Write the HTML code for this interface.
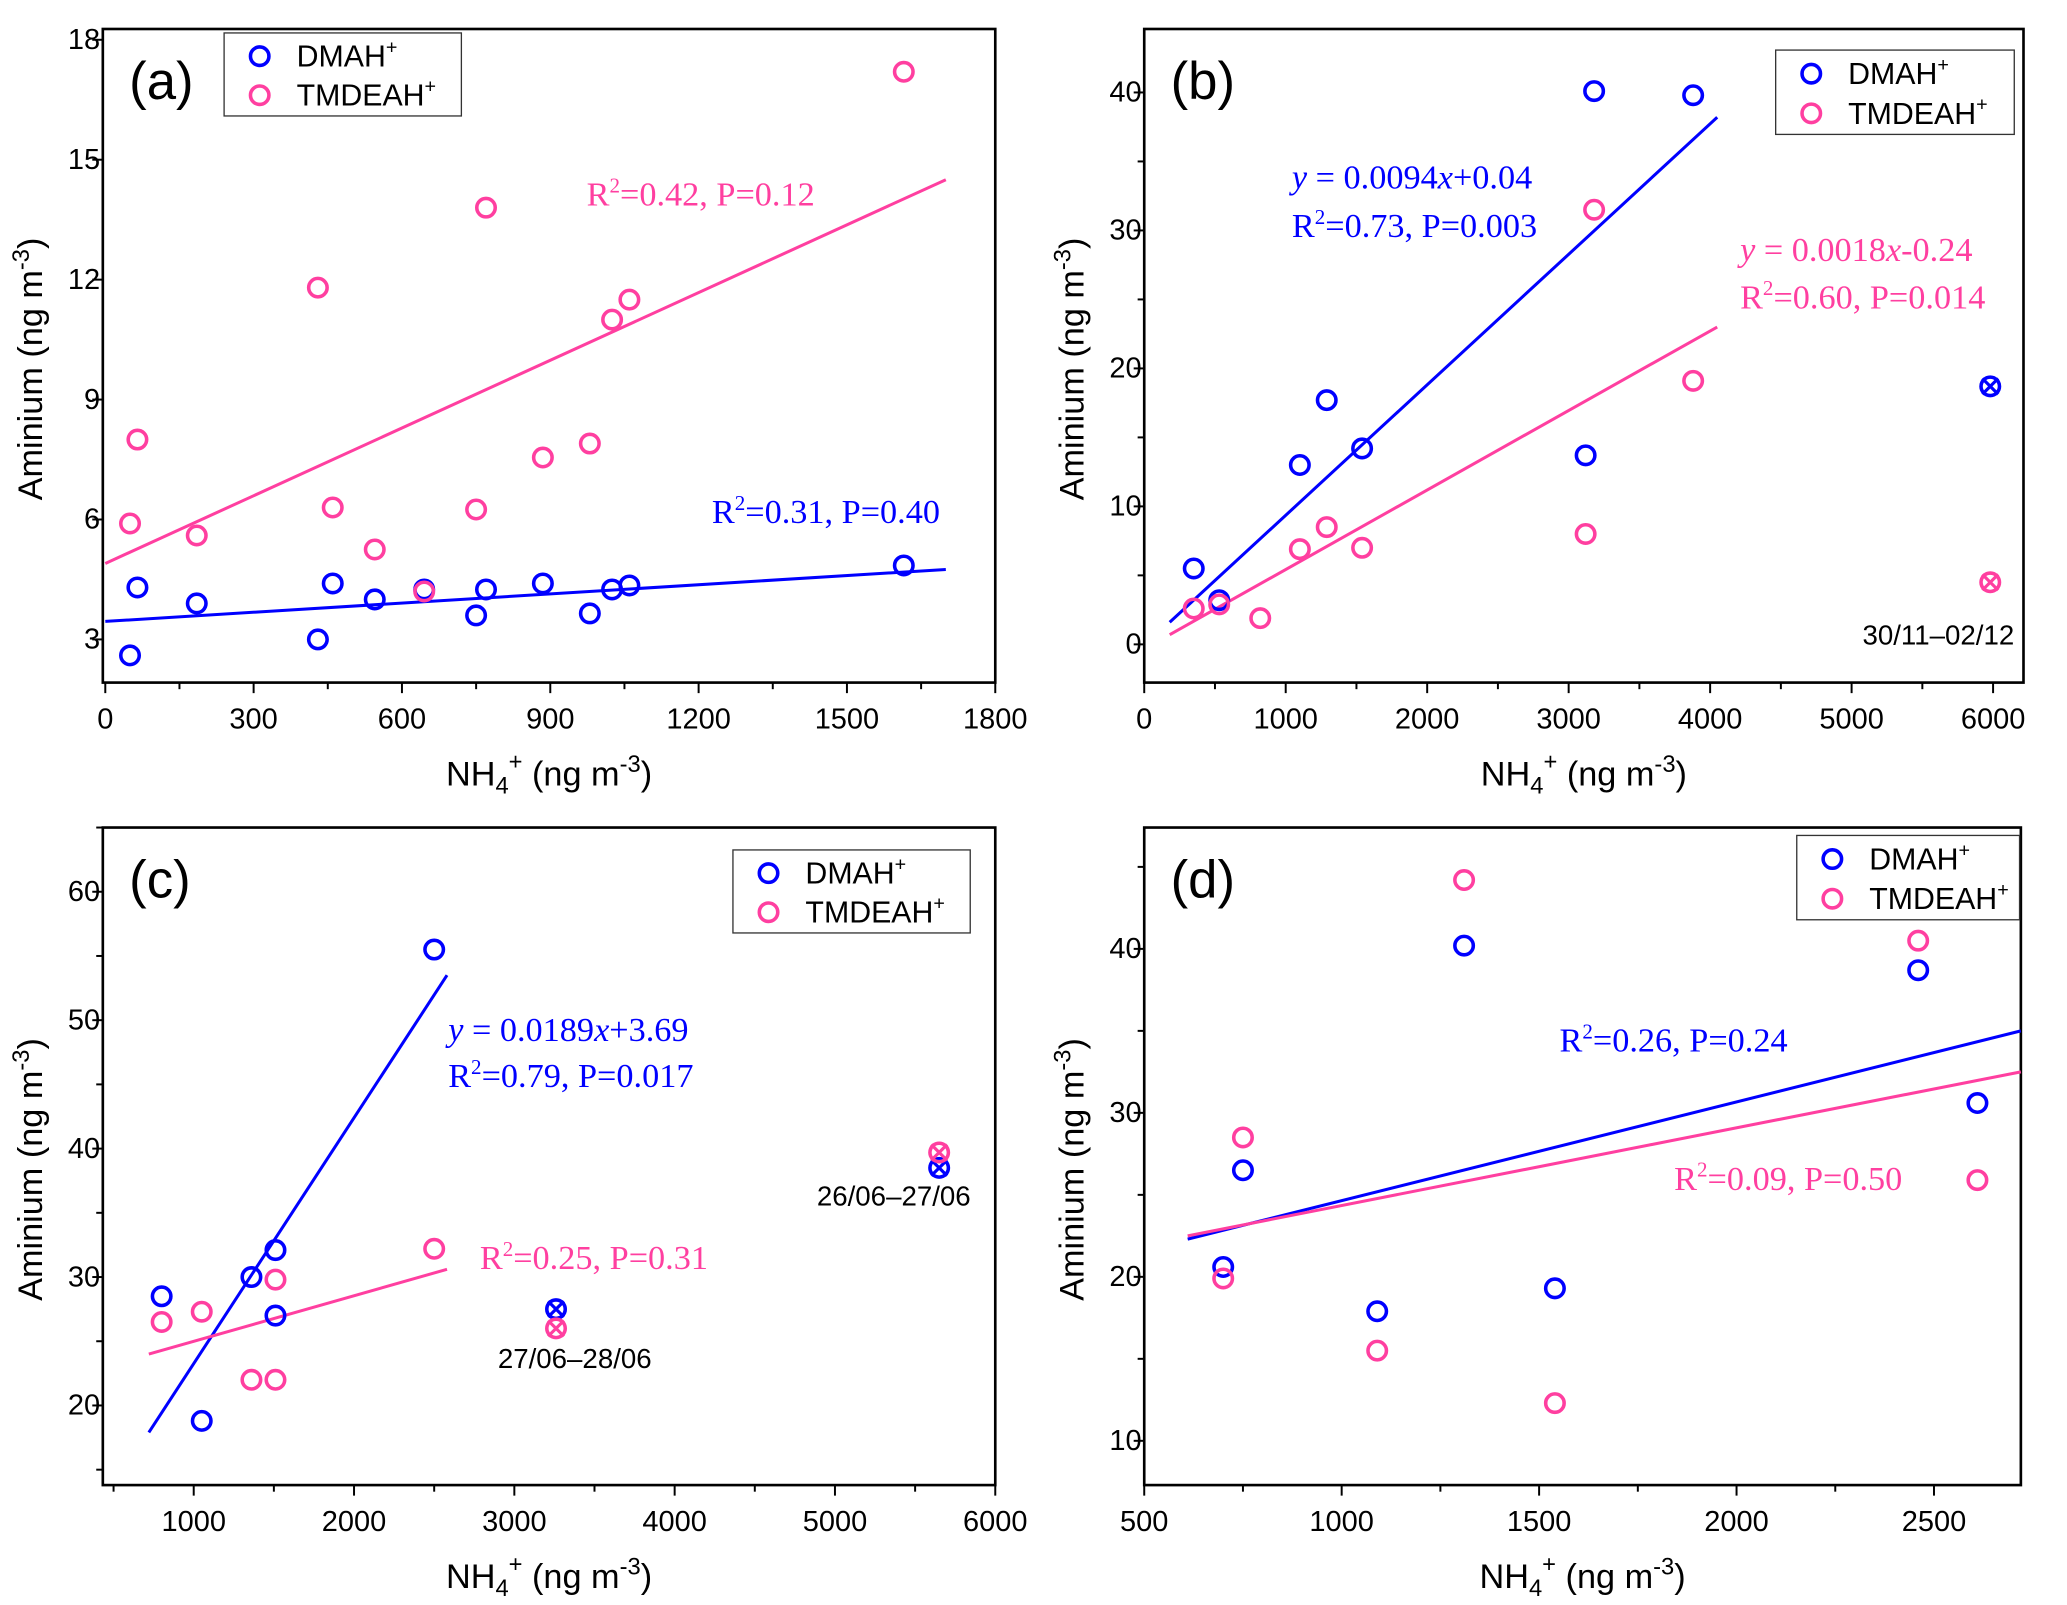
<!DOCTYPE html>
<html><head><meta charset="utf-8"><style>
html,body{margin:0;padding:0;background:#fff;}
svg{display:block;}
text{font-family:"Liberation Sans",Arial,sans-serif;}
.tm{font-family:"Liberation Serif","Times New Roman",serif;}
</style></head><body>
<svg id="fig" width="2067" height="1605" viewBox="0 0 1568 1218" preserveAspectRatio="none" xmlns="http://www.w3.org/2000/svg"></svg>
<script>
// ---- Panel (a) data ----
const aX = [50,65,185,430,460,545,645,750,770,885,980,1025,1060,1615];
const aDmah = [2.6,4.3,3.9,3.0,4.4,4.0,4.25,3.6,4.25,4.4,3.65,4.25,4.35,4.85];
const aTmdeah = [5.9,8.0,5.6,11.8,6.3,5.25,4.2,6.25,13.8,7.55,7.9,11.0,11.5,17.2];
const aXTicks = [0,300,600,900,1200,1500,1800];
const aYTicks = [3,6,9,12,15,18];
const aFitDmah = [[0,3.45],[1700,4.75]];
const aFitTmdeah = [[0,4.9],[1700,14.5]];
// ---- Panel (b) data ----
const bX = [350,530,1100,1290,1540,3120,3180,3880];
const bDmah = [5.5,3.2,13,17.7,14.2,13.7,40.1,39.8];
const bTX = [350,530,820,1100,1290,1540,3120,3180,3880];
const bTmdeah = [2.6,2.9,1.9,6.9,8.5,7.0,8.0,31.5,19.1];
const bOutX = [5980];
const bOutDmah = [18.7];
const bOutTmdeah = [4.5];
const bXTicks = [0,1000,2000,3000,4000,5000,6000];
const bYTicks = [0,10,20,30,40];
const bFitDmah = [[180,1.6],[4050,38.2]];
const bFitTmdeah = [[180,0.7],[4050,23]];
// ---- Panel (c) data ----
const cX = [800,1050,1360,1510,1510,2500];
const cDmah = [28.5,18.8,30,32.1,27,55.5];
const cTmdeah = [26.5,27.3,22,29.8,22,32.2];
const cOutX = [3260,5650];
const cOutDmah = [27.5,38.5];
const cOutTmdeah = [26,39.7];
const cXTicks = [1000,2000,3000,4000,5000,6000];
const cYTicks = [20,30,40,50,60];
const cFitDmah = [[720,17.9],[2580,53.5]];
const cFitTmdeah = [[720,24],[2580,30.6]];
// ---- Panel (d) data ----
const dX = [700,750,1090,1310,1540,2460,2610];
const dDmah = [20.6,26.5,17.9,40.2,19.3,38.7,30.6];
const dTmdeah = [19.9,28.5,15.5,44.2,12.3,40.5,25.9];
const dXTicks = [500,1000,1500,2000,2500];
const dYTicks = [10,20,30,40];
const dFitDmah = [[610,22.3],[2720,35]];
const dFitTmdeah = [[610,22.5],[2720,32.5]];

const BLUE='#0000ff', PINK='#ff3fa0';
const svg=document.getElementById('fig');
const NS='http://www.w3.org/2000/svg';
function mk(tag,attrs,parent){const e=document.createElementNS(NS,tag);for(const k in attrs)e.setAttribute(k,attrs[k]);(parent||svg).appendChild(e);return e;}

function panel(id,box,xd,yd,xTicks,yTicks,xMinor,yMinor,letter){
  const g=mk('g',{});
  
  
  const sx=v=>box.x0+(v-xd[0])/(xd[1]-xd[0])*(box.x1-box.x0);
  const sy=v=>box.y1-(v-yd[0])/(yd[1]-yd[0])*(box.y1-box.y0);
  const fr=mk('rect',{x:box.x0,y:box.y0,width:box.x1-box.x0,height:box.y1-box.y0,fill:'none',stroke:'#000','stroke-width':2},g);
  
  
  const xa=mk('g',{},g);
  
  
  for(let v=Math.ceil(xd[0]/xMinor)*xMinor;v<=xd[1]+1e-9;v+=xMinor){
    const major=xTicks.includes(v);
    mk('line',{x1:sx(v),x2:sx(v),y1:box.y1,y2:box.y1+(major?8:5),stroke:'#000','stroke-width':1.5},xa);
  }
  xTicks.forEach(v=>{
    const t=mk('text',{x:sx(v),y:box.y1+35,'font-size':22,'text-anchor':'middle'},xa);
    t.textContent=v;
    
    
  });
  const ya=mk('g',{},g);
  
  
  for(let v=Math.ceil(yd[0]/yMinor)*yMinor;v<=yd[1]+1e-9;v+=yMinor){
    const major=yTicks.includes(v);
    mk('line',{x1:box.x0,x2:box.x0-(major?8:5),y1:sy(v),y2:sy(v),stroke:'#000','stroke-width':1.5},ya);
  }
  yTicks.forEach(v=>{
    const t=mk('text',{x:box.x0-2,y:sy(v)+7,'font-size':22,'text-anchor':'end'},ya);
    t.textContent=v;
    
    
  });
  const xt=mk('text',{x:(box.x0+box.x1)/2,y:box.y1+78,'font-size':26,'text-anchor':'middle'},g);
  xt.innerHTML='NH<tspan dy="6" font-size="18">4</tspan><tspan dy="-18" font-size="18">+</tspan><tspan dy="12"> (ng m</tspan><tspan dy="-10" font-size="18">-3</tspan><tspan dy="10">)</tspan>';
  
  
  const cy=(box.y0+box.y1)/2+10, cx=box.x0-46;
  const yt=mk('text',{x:cx,y:cy,'font-size':26,'text-anchor':'middle',transform:`rotate(-90 ${cx} ${cy})`},g);
  yt.innerHTML='Aminium (ng m<tspan dy="-10" font-size="18">-3</tspan><tspan dy="10">)</tspan>';
  
  
  const pl=mk('text',{x:box.x0+20,y:box.y0+53,'font-size':40},g);
  pl.textContent='('+letter+')';
  
  
  return {g,sx,sy};
}
function points(p,xs,ys,color,name,crossed){
  xs.forEach((x,i)=>{
    const c=mk('circle',{cx:p.sx(x),cy:p.sy(ys[i]),r:7,fill:'none',stroke:color,'stroke-width':2.7},p.g);
    
    
    if(crossed){
      const X=p.sx(x),Y=p.sy(ys[i]);
      mk('path',{d:`M${X-6} ${Y-6}L${X+6} ${Y+6}M${X+6} ${Y-6}L${X-6} ${Y+6}`,stroke:color,'stroke-width':2.4},p.g);
    }
  });
}
function fit(p,f,color,name){
  const l=mk('line',{x1:p.sx(f[0][0]),y1:p.sy(f[0][1]),x2:p.sx(f[1][0]),y2:p.sy(f[1][1]),stroke:color,'stroke-width':2.3},p.g);
  
  
}
function legend(p,x,y,w,h){
  const lg=mk('g',{},p.g);
  
  
  mk('rect',{x:x,y:y,width:w,height:h,fill:'#fff',stroke:'#333','stroke-width':1},lg);
  [['DMAH',BLUE],['TMDEAH',PINK]].forEach((e,i)=>{
    const ey=y+h*(0.28+0.47*i);
    const en=mk('g',{},lg);
    
    
    mk('circle',{cx:x+27,cy:ey,r:7,fill:'none',stroke:e[1],'stroke-width':2.7},en);
    const t=mk('text',{x:x+55,y:ey+8,'font-size':23},en);
    t.innerHTML=e[0]+'<tspan dy="-10" font-size="15">+</tspan>';
  });
}
function ann(p,x,y,color,html,name,size,anchor){
  const t=mk('text',{x:x,y:y,'font-size':size||26,fill:color,class:'tm','text-anchor':anchor||'start'},p.g);
  t.innerHTML=html;
  
  
}
const R2=(r,pv)=>`R<tspan dy="-10" font-size="16">2</tspan><tspan dy="10">=${r}, P=${pv}</tspan>`;

// Panel a
const pa=panel('a',{x0:78,x1:755,y0:22,y1:518},[-5,1800],[1.92,18.27],aXTicks,aYTicks,150,3,'a');
fit(pa,aFitTmdeah,PINK,'fit-line-tmdeah');
fit(pa,aFitDmah,BLUE,'fit-line-dmah');
points(pa,aX,aDmah,BLUE,'point-dmah');
points(pa,aX,aTmdeah,PINK,'point-tmdeah');
legend(pa,170,25,180,63);
ann(pa,445,156,PINK,R2('0.42','0.12'),'annotation-tmdeah');
ann(pa,540,397,BLUE,R2('0.31','0.40'),'annotation-dmah');

// Panel b
const pb=panel('b',{x0:868,x1:1535,y0:22,y1:518},[0,6215],[-2.77,44.6],bXTicks,bYTicks,500,5,'b');
fit(pb,bFitDmah,BLUE,'fit-line-dmah');
fit(pb,bFitTmdeah,PINK,'fit-line-tmdeah');
points(pb,bX,bDmah,BLUE,'point-dmah');
points(pb,bTX,bTmdeah,PINK,'point-tmdeah');
points(pb,bOutX,bOutDmah,BLUE,'outlier-dmah',true);
points(pb,bOutX,bOutTmdeah,PINK,'outlier-tmdeah',true);
legend(pb,1347,38,181,64);
ann(pb,980,143,BLUE,'<tspan font-style="italic">y</tspan> = 0.0094<tspan font-style="italic">x</tspan>+0.04','equation-dmah');
ann(pb,980,180,BLUE,R2('0.73','0.003'),'annotation-dmah');
ann(pb,1320,198,PINK,'<tspan font-style="italic">y</tspan> = 0.0018<tspan font-style="italic">x</tspan>-0.24','equation-tmdeah');
ann(pb,1320,234,PINK,R2('0.60','0.014'),'annotation-tmdeah');
const bl=mk('text',{x:1528,y:489,'font-size':21,'text-anchor':'end'},pb.g);
bl.textContent='30/11–02/12';



// Panel c
const pc=panel('c',{x0:78,x1:755,y0:628,y1:1127},[433,6000],[13.8,65],cXTicks,cYTicks,500,5,'c');
fit(pc,cFitDmah,BLUE,'fit-line-dmah');
fit(pc,cFitTmdeah,PINK,'fit-line-tmdeah');
points(pc,cX,cDmah,BLUE,'point-dmah');
points(pc,cX,cTmdeah,PINK,'point-tmdeah');
points(pc,cOutX,cOutDmah,BLUE,'outlier-dmah',true);
points(pc,cOutX,cOutTmdeah,PINK,'outlier-tmdeah',true);
legend(pc,556,645,180,63);
ann(pc,340,790,BLUE,'<tspan font-style="italic">y</tspan> = 0.0189<tspan font-style="italic">x</tspan>+3.69','equation-dmah');
ann(pc,340,825,BLUE,R2('0.79','0.017'),'annotation-dmah');
ann(pc,364,963,PINK,R2('0.25','0.31'),'annotation-tmdeah');
const cl1=mk('text',{x:436,y:1038,'font-size':21,'text-anchor':'middle'},pc.g);
cl1.textContent='27/06–28/06';


const cl2=mk('text',{x:678,y:915,'font-size':21,'text-anchor':'middle'},pc.g);
cl2.textContent='26/06–27/06';



// Panel d
const pd=panel('d',{x0:868,x1:1533,y0:628,y1:1127},[500,2720],[7.3,47.4],dXTicks,dYTicks,250,5,'d');
fit(pd,dFitDmah,BLUE,'fit-line-dmah');
fit(pd,dFitTmdeah,PINK,'fit-line-tmdeah');
points(pd,dX,dDmah,BLUE,'point-dmah');
points(pd,dX,dTmdeah,PINK,'point-tmdeah');
legend(pd,1363,634,169,64);
ann(pd,1183,798,BLUE,R2('0.26','0.24'),'annotation-dmah');
ann(pd,1270,903,PINK,R2('0.09','0.50'),'annotation-tmdeah');
</script>
</body></html>
